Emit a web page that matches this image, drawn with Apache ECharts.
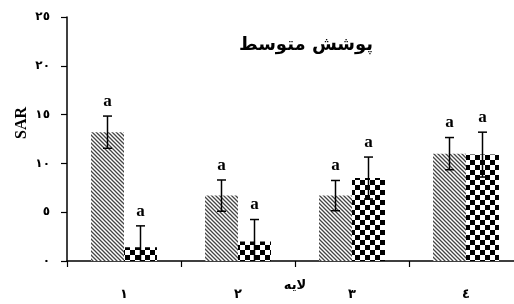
<!DOCTYPE html>
<html>
<head>
<meta charset="utf-8">
<script src="https://cdn.jsdelivr.net/npm/echarts@6/dist/echarts.min.js"></script>
<style>
  html, body { margin: 0; padding: 0; background: #fff; }
  #chart { width: 514px; height: 304px; }
</style>
</head>
<body>
<div id="chart"></div>
<script>
// categories (layers) and tick labels
var categories = ['١', '٢', '٣', '٤']
var yTickLabels = ['٠', '٥', '١٠', '١٥', '٢٠', '٢٥']

// series values
var hatchValues = [13.2, 6.7, 6.7, 11.0]
var hatchErrors = [1.65, 1.6, 1.55, 1.65]
var hatchLetters = ['a', 'a', 'a', 'a']

var checkValues = [1.4, 2.0, 8.5, 10.9]
var checkErrors = [2.2, 2.25, 2.15, 2.3]
var checkLetters = ['a', 'a', 'a', 'a']

var BAR_W = 33

// diagonal hatch pattern
function makeHatch() {
  var s = 4
  var c = document.createElement('canvas')
  c.width = s; c.height = s
  var ctx = c.getContext('2d')
  ctx.fillStyle = '#fff'
  ctx.fillRect(0, 0, s, s)
  ctx.strokeStyle = '#444'
  ctx.lineWidth = 1.3
  ctx.beginPath()
  ctx.moveTo(-1, -1); ctx.lineTo(s + 1, s + 1)
  ctx.moveTo(-1, s - 1); ctx.lineTo(1, s + 1)
  ctx.moveTo(s - 1, -1); ctx.lineTo(s + 1, 1)
  ctx.stroke()
  return c
}

// black / white checkerboard
function makeChecker() {
  var s = 5
  var c = document.createElement('canvas')
  c.width = s * 2; c.height = s * 2
  var ctx = c.getContext('2d')
  ctx.fillStyle = '#fff'
  ctx.fillRect(0, 0, s * 2, s * 2)
  ctx.fillStyle = '#000'
  ctx.fillRect(0, 0, s, s)
  ctx.fillRect(s, s, s, s)
  return c
}

// error bar + letter drawn at the centre of each bar
function errorRenderer(offset) {
  return function (params, api) {
    var i = api.value(0)
    var v = api.value(1)
    var e = api.value(2)
    var mid = api.coord([i, v])
    var hi = api.coord([i, v + e])
    var lo = api.coord([i, Math.max(0, v - e)])
    var x = mid[0] + offset
    var cap = 4.5
    var style = { stroke: '#000', lineWidth: 1.5 }
    var kids = [
      { type: 'line', shape: { x1: x, y1: hi[1], x2: x, y2: lo[1] }, style: style },
      { type: 'line', shape: { x1: x - cap, y1: hi[1], x2: x + cap, y2: hi[1] }, style: style },
      {
        type: 'text',
        style: {
          text: api.value(3),
          x: x, y: hi[1] - 6,
          align: 'center', verticalAlign: 'bottom',
          font: 'bold 17px "Liberation Serif", serif',
          fill: '#000'
        }
      }
    ]
    if (v - e > 0) {
      kids.push({ type: 'line', shape: { x1: x - cap, y1: lo[1], x2: x + cap, y2: lo[1] }, style: style })
    }
    return { type: 'group', children: kids }
  }
}

function errData(values, errors, letters) {
  return values.map(function (v, i) { return [i, v, errors[i], letters[i]] })
}

var chart = echarts.init(document.getElementById('chart'))
chart.setOption({
  animation: false,
  backgroundColor: '#fff',
  title: {
    text: 'پوشش متوسط',
    left: 301, top: 31,
    textAlign: 'center',
    textStyle: { fontFamily: 'DejaVu Sans', fontWeight: 'bold', fontSize: 18, color: '#000' }
  },
  grid: { left: 67, right: -9, top: 17, bottom: 43, outerBoundsMode: 'none', containLabel: false },
  xAxis: {
    type: 'category',
    data: categories,
    name: 'لایه',
    nameLocation: 'middle',
    nameGap: 18,
    nameMoveOverlap: false,
    nameTextStyle: { fontFamily: 'DejaVu Sans', fontWeight: 'bold', fontSize: 13, color: '#000' },
    axisLine: { lineStyle: { color: '#000', width: 1.5 } },
    axisTick: { show: true, inside: false, length: 6, lineStyle: { color: '#000', width: 1.2 } },
    axisLabel: { margin: 27, fontFamily: 'DejaVu Sans', fontWeight: 'bold', fontSize: 13, color: '#000' }
  },
  yAxis: {
    type: 'value',
    min: 0, max: 25, interval: 5,
    axisLine: { show: true, lineStyle: { color: '#000', width: 1.5 } },
    axisTick: { show: true, length: 6, lineStyle: { color: '#000', width: 1.2 } },
    splitLine: { show: false },
    axisLabel: {
      margin: 17,
      fontFamily: 'DejaVu Sans', fontWeight: 'bold', fontSize: 12, color: '#000',
      formatter: function (v) { return yTickLabels[v / 5] }
    }
  },
  graphic: [{
    type: 'text',
    x: 22, y: 123,
    rotation: Math.PI / 2,
    style: {
      text: 'SAR',
      align: 'center', verticalAlign: 'middle',
      font: 'bold 16px "Liberation Serif", serif',
      fill: '#000'
    }
  }],
  series: [
    {
      type: 'bar',
      data: hatchValues,
      barWidth: BAR_W,
      barGap: '0%',
      itemStyle: { color: { image: makeHatch(), repeat: 'repeat' } }
    },
    {
      type: 'bar',
      data: checkValues,
      barWidth: BAR_W,
      barGap: '0%',
      itemStyle: { color: { image: makeChecker(), repeat: 'repeat' } }
    },
    {
      type: 'custom',
      renderItem: errorRenderer(-BAR_W / 2),
      data: errData(hatchValues, hatchErrors, hatchLetters),
      z: 10
    },
    {
      type: 'custom',
      renderItem: errorRenderer(BAR_W / 2),
      data: errData(checkValues, checkErrors, checkLetters),
      z: 10
    }
  ]
})
</script>
</body>
</html>
